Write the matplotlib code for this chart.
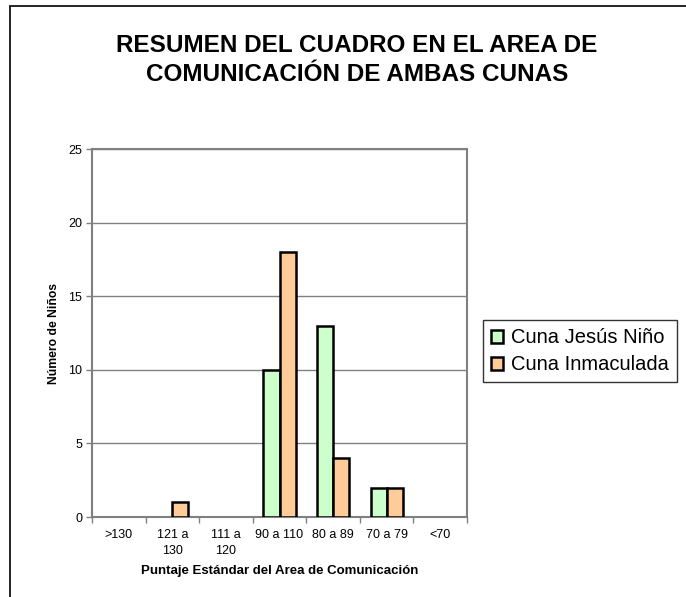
import numpy as np
import matplotlib
matplotlib.use("Agg")
import matplotlib.pyplot as plt
from matplotlib.patches import Rectangle

plt.rcParams['font.family'] = ['Liberation Sans', 'DejaVu Sans']

categorias = [">130", "121 a\n130", "111 a\n120", "90 a 110", "80 a 89", "70 a 79", "<70"]
cuna_jesus_nino = [0, 0, 0, 10, 13, 2, 0]
cuna_inmaculada = [0, 1, 0, 18, 4, 2, 0]
series = ["Cuna Jesús Niño", "Cuna Inmaculada"]

fig = plt.figure(figsize=(6.86, 5.97), dpi=100)
ax = fig.add_axes([92 / 686, 1 - 517 / 597, 375 / 686, 368 / 597])

x = np.arange(len(categorias))
w = 0.3
# zero-valued bars are not drawn in the original
h1 = np.where(np.array(cuna_jesus_nino) == 0, np.nan, cuna_jesus_nino)
h2 = np.where(np.array(cuna_inmaculada) == 0, np.nan, cuna_inmaculada)
ax.bar(x - w / 2, h1, w, color="#CCFFCC", edgecolor="black",
       linewidth=1.8, label=series[0], zorder=3)
ax.bar(x + w / 2, h2, w, color="#FFCC99", edgecolor="black",
       linewidth=1.8, label=series[1], zorder=3)

ax.set_xlim(-0.5, len(categorias) - 0.5)
ax.set_ylim(0, 25)
ax.set_yticks(range(0, 26, 5))
ax.set_xticks(x)
ax.set_xticklabels(categorias, fontsize=9, linespacing=1.4)
ax.set_xticks(np.arange(-0.5, len(categorias)), minor=True)
ax.tick_params(axis="x", which="major", length=0, pad=9)
ax.tick_params(axis="x", which="minor", length=4, width=1, color="#808080")
ax.tick_params(axis="y", length=4, width=1, color="#808080", labelsize=9, pad=3)
ax.yaxis.grid(True, color="#808080", linewidth=1, zorder=0)

for s in ax.spines.values():
    s.set_color("#808080")
    s.set_linewidth(1.5)

ax.set_xlabel("Puntaje Estándar del Area de Comunicación", fontsize=9.5,
              fontweight="bold", labelpad=6)
ax.set_ylabel("Número de Niños", fontsize=8.7, fontweight="bold", labelpad=6)

fig.text(357 / 686, 1 - 60 / 597,
         "RESUMEN DEL CUADRO EN EL AREA DE\nCOMUNICACIÓN DE AMBAS CUNAS",
         ha="center", va="center", fontsize=17.5, fontweight="bold",
         linespacing=1.3)

leg = ax.legend(loc="center left", bbox_to_anchor=(391 / 375, 0.45),
                fontsize=14.5, frameon=True, fancybox=False, edgecolor="black",
                handlelength=0.6, handleheight=0.6, handletextpad=0.4,
                borderpad=0.4, labelspacing=0.4, borderaxespad=0)
leg.get_frame().set_linewidth(1)

fig.patches.append(Rectangle((10 / 686, -0.01), 1, 1 - 6 / 597 + 0.01,
                             transform=fig.transFigure, fill=False,
                             edgecolor="black", linewidth=1.2))

fig.savefig("out.png", dpi=100)
